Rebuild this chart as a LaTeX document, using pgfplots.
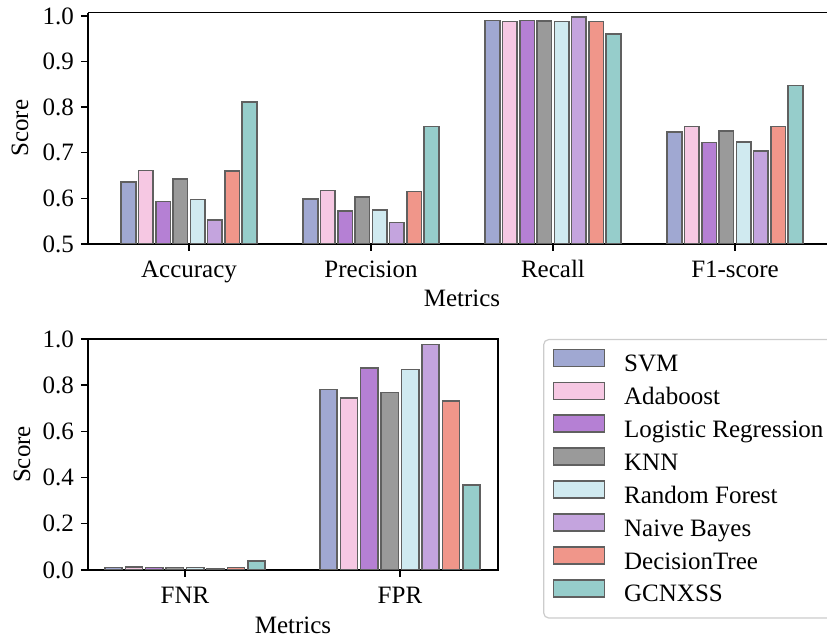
\documentclass[border=0pt]{standalone}
\usepackage{fontspec}
\setmainfont{Liberation Serif}
\usepackage{pgfplots}
\usepackage{pgfplotstable}
\pgfplotsset{compat=1.18}
\newcommand\fs{\fontsize{12.5}{15}\selectfont}
\definecolor{cSVM}{HTML}{A0A8D2}
\definecolor{cADA}{HTML}{F6C8E3}
\definecolor{cLR}{HTML}{B580D4}
\definecolor{cKNN}{HTML}{9A9A9A}
\definecolor{cRF}{HTML}{D0EAF0}
\definecolor{cNB}{HTML}{C4A4DE}
\definecolor{cDT}{HTML}{F0968A}
\definecolor{cGCN}{HTML}{96CDCB}
\definecolor{edgec}{HTML}{606060}
\definecolor{leggray}{HTML}{CCCCCC}

\pgfplotstableread{
cat SVM ADA LR KNN RF NB DT GCN
0 0.636 0.661 0.593 0.642 0.598 0.553 0.660 0.811
1 0.599 0.617 0.572 0.603 0.574 0.547 0.615 0.758
2 0.990 0.988 0.990 0.989 0.988 0.998 0.988 0.960
3 0.745 0.758 0.723 0.748 0.724 0.704 0.758 0.847
}\topdata
\pgfplotstableread{
cat SVM ADA LR KNN RF NB DT GCN
0 0.011 0.014 0.011 0.011 0.011 0.006 0.011 0.040
1 0.782 0.745 0.874 0.768 0.867 0.977 0.732 0.368
}\botdata

\pgfplotsset{
  mybar/.style={ybar, bar shift=0pt, bar width=0.08, draw=edgec, line width=0.75pt, fill=#1,
    legend image code/.code={\draw[##1,/tikz/.cd,sharp corners] (0pt,-0.5pt) rectangle (25.5pt,8pt);}},
  myaxis/.style={
    scale only axis,
    axis line style={line width=0.7pt, black},
    tick align=outside,
    major tick length=3.5pt,
    xtick pos=bottom, ytick pos=left,
    tick style={line width=0.7pt, black},
    /pgf/number format/assume math mode=true,
    tick label style={font=\fs},
    yticklabel style={/pgf/number format/.cd, fixed, fixed zerofill, precision=1},
    xticklabel style={anchor=base, yshift=-13.5pt},
    clip=true,
  },
}

\begin{document}
\begin{tikzpicture}
% top axis
\begin{axis}[myaxis,
  at={(44pt,196.5pt)}, anchor=south west,
  width=374pt, height=115.65pt,
  axis lines*=left,
  xmin=-0.555, xmax=3.555, ymin=0.5, ymax=1.007,
  xtick={0,1,2,3}, xticklabels={Accuracy,Precision,Recall,F1-score},
  ytick={0.5,0.6,0.7,0.8,0.9,1.0},
  xlabel={Metrics}, ylabel={Score},
  every axis x label/.style={at={(axis description cs:0.5,0)}, anchor=base, yshift=-31.5pt, font=\fs},
  every axis y label/.style={at={(axis description cs:-0.0909,0.5)}, anchor=center, rotate=90, font=\fs},
  extra description/.code={\draw[line width=0.7pt, black] (0,1) -- (1,1);},
]
\addplot[mybar=cSVM] table[x expr=\thisrow{cat}-0.3325, y=SVM] {\topdata};
\addplot[mybar=cADA] table[x expr=\thisrow{cat}-0.2375, y=ADA] {\topdata};
\addplot[mybar=cLR]  table[x expr=\thisrow{cat}-0.1425, y=LR] {\topdata};
\addplot[mybar=cKNN] table[x expr=\thisrow{cat}-0.0475, y=KNN] {\topdata};
\addplot[mybar=cRF]  table[x expr=\thisrow{cat}+0.0475, y=RF] {\topdata};
\addplot[mybar=cNB]  table[x expr=\thisrow{cat}+0.1425, y=NB] {\topdata};
\addplot[mybar=cDT]  table[x expr=\thisrow{cat}+0.2375, y=DT] {\topdata};
\addplot[mybar=cGCN] table[x expr=\thisrow{cat}+0.3325, y=GCN] {\topdata};
\end{axis}
% bottom axis
\begin{axis}[myaxis,
  at={(44pt,33.5pt)}, anchor=south west,
  width=205pt, height=115.5pt,
  xmin=-0.451, xmax=1.456, ymin=0, ymax=1.0,
  xtick={0,1}, xticklabels={FNR,FPR},
  ytick={0,0.2,0.4,0.6,0.8,1.0},
  xlabel={Metrics}, ylabel={Score},
  every axis x label/.style={at={(axis description cs:0.5,0)}, anchor=base, yshift=-32pt, font=\fs},
  every axis y label/.style={at={(axis description cs:-0.161,0.5)}, anchor=center, rotate=90, font=\fs},
  legend cell align=left,
  legend style={at={(1.11,1.0)}, anchor=north west, draw=leggray, line width=0.6pt,
    rounded corners=2.5pt, font=\fs, inner xsep=4.5pt, inner ysep=4.5pt,
    row sep=1.6pt,
    nodes={inner sep=0pt, text height=9.5pt, text depth=3.5pt},
    /tikz/every odd column/.append style={column sep=9.5pt}},
]
\addplot[mybar=cSVM] table[x expr=\thisrow{cat}-0.3325, y=SVM] {\botdata};
\addplot[mybar=cADA] table[x expr=\thisrow{cat}-0.2375, y=ADA] {\botdata};
\addplot[mybar=cLR]  table[x expr=\thisrow{cat}-0.1425, y=LR] {\botdata};
\addplot[mybar=cKNN] table[x expr=\thisrow{cat}-0.0475, y=KNN] {\botdata};
\addplot[mybar=cRF]  table[x expr=\thisrow{cat}+0.0475, y=RF] {\botdata};
\addplot[mybar=cNB]  table[x expr=\thisrow{cat}+0.1425, y=NB] {\botdata};
\addplot[mybar=cDT]  table[x expr=\thisrow{cat}+0.2375, y=DT] {\botdata};
\addplot[mybar=cGCN] table[x expr=\thisrow{cat}+0.3325, y=GCN] {\botdata};
\legend{SVM,Adaboost,Logistic Regression,KNN,Random Forest,Naive Bayes,DecisionTree,GCNXSS}
\end{axis}
\pgfresetboundingbox
\useasboundingbox (0,0) rectangle (413.5pt,318.5pt);
\end{tikzpicture}
\end{document}
